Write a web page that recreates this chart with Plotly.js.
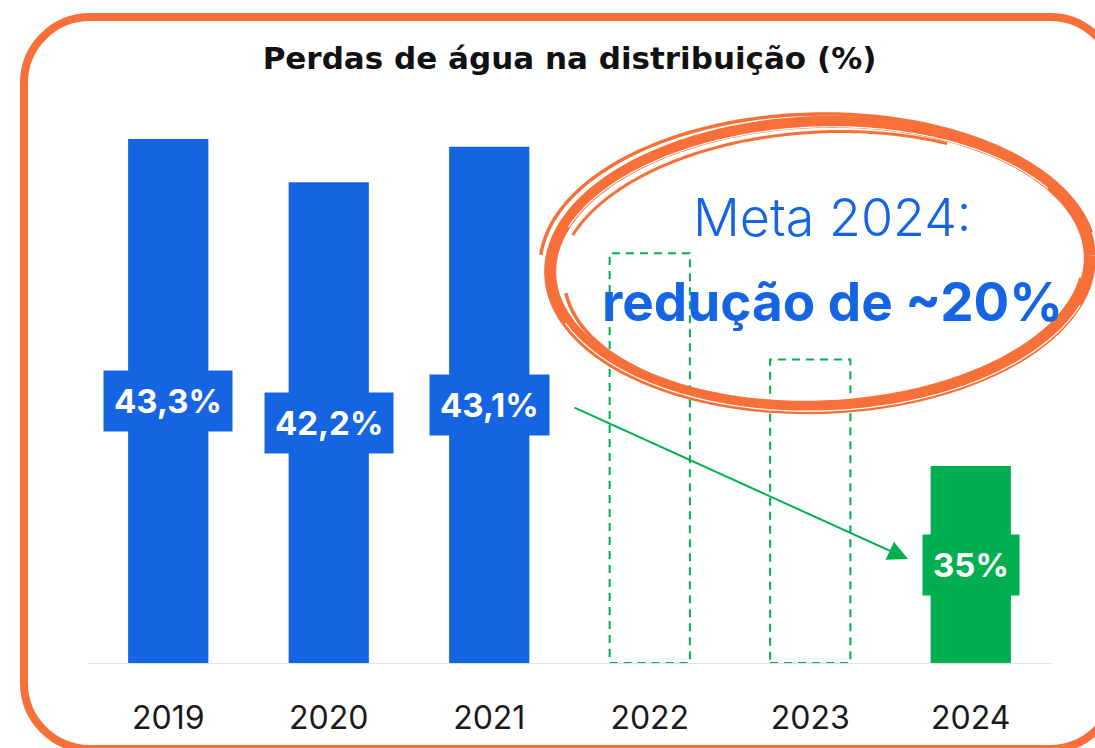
<!DOCTYPE html>
<html>
<head>
<meta charset="utf-8">
<script src="https://cdn.plot.ly/plotly-3.0.1.min.js"></script>
<style>
  html, body { margin: 0; padding: 0; background: #ffffff; overflow: hidden; }
  #wrap { position: relative; width: 1095px; height: 748px; overflow: hidden; }
  #chart { position: absolute; left: 0; top: 0; width: 1095px; height: 748px; }
  #frame { position: absolute; left: 20px; top: 13px; width: 1084px; height: 724px;
           border: 8px solid #F7703A; border-radius: 70px; pointer-events: none; }
</style>
</head>
<body>
<div id="wrap">
  <div id="chart"></div>
  <div id="frame"></div>
</div>
<script>
// ---- data ----
const years = ['2019', '2020', '2021', '2022', '2023', '2024'];
const actualYears = ['2019', '2020', '2021'];
const actualValues = [43.3, 42.2, 43.1];
const actualLabels = ['43,3%', '42,2%', '43,1%'];
const metaPathYears = ['2022', '2023'];
const metaPathValues = [40.4, 37.7];
const targetYears = ['2024'];
const targetValues = [35];
const targetLabels = ['35%'];
const axisMin = 30;
const axisMax = 45;

const titleText = 'Perdas de água na distribuição (%)';
const noteLine1 = 'Meta 2024:';
const noteLine2 = 'redução de ~20%';

// ---- styles ----
const BLUE = '#1565E3';
const GREEN = '#00AF50';
const ORANGE = '#F7703A';
const FONT = 'Inter, "Open Sans", sans-serif';

const W = 1095, H = 748;
const M = { l: 88, r: 44, t: 72, b: 85 };
const PW = W - M.l - M.r, PH = H - M.t - M.b;
function px2paperX(x) { return (x - M.l) / PW; }
function px2paperY(y) { return (H - M.b - y) / PH; }

const traces = [
  {
    type: 'bar', x: actualYears, y: actualValues, width: 0.5,
    marker: { color: BLUE }, hoverinfo: 'x+y', showlegend: false
  },
  {
    type: 'bar', x: targetYears, y: targetValues, width: 0.5,
    marker: { color: GREEN }, hoverinfo: 'x+y', showlegend: false
  }
];

const shapes = [];
// dashed placeholder bars
metaPathYears.forEach((yr, i) => {
  const idx = years.indexOf(yr);
  shapes.push({
    type: 'rect', xref: 'x', yref: 'y', layer: 'above',
    x0: idx - 0.25, x1: idx + 0.25, y0: axisMin, y1: metaPathValues[i],
    line: { color: GREEN, width: 2, dash: '8px,6px' }, fillcolor: 'rgba(0,0,0,0)'
  });
});

// hand-drawn style ellipse (decoration)
function ellipsePath(cx, cy, rx, ry, rotDeg, a0, a1, n) {
  const r = rotDeg * Math.PI / 180;
  let d = '';
  for (let k = 0; k <= n; k++) {
    const t = (a0 + (a1 - a0) * k / n) * Math.PI / 180;
    const ex = rx * Math.cos(t), ey = ry * Math.sin(t);
    const x = cx + ex * Math.cos(r) - ey * Math.sin(r);
    const y = cy + ex * Math.sin(r) + ey * Math.cos(r);
    d += (k === 0 ? 'M' : 'L') + px2paperX(x).toFixed(5) + ',' + px2paperY(y).toFixed(5);
  }
  return d;
}
function ell(cx, cy, rx, ry, rot, a0, a1, w, col) {
  shapes.push({ type: 'path', xref: 'paper', yref: 'paper', layer: 'above',
    path: ellipsePath(cx, cy, rx, ry, rot, a0, a1, 120), line: { color: col, width: w } });
}
ell(820, 265, 270, 143, -2, 0, 360, 12, ORANGE);
ell(820, 266, 266, 139, -2, 200, 330, 1.2, '#ffffff');
ell(821, 264, 274, 147, -2, 20, 160, 1.2, '#ffffff');
ell(818, 263, 278, 149, -1, 185, 350, 3.5, ORANGE);
ell(824, 268, 260, 134, -3, 10, 175, 3.5, ORANGE);
ell(822, 269, 263, 137, -3, 200, 300, 3, ORANGE);

const annotations = [];
function addLabel(yr, v, txt, col) {
  annotations.push({
    xref: 'x', yref: 'y', x: years.indexOf(yr), y: (axisMin + v) / 2,
    xanchor: 'center', yanchor: 'middle',
    text: '<b>' + txt + '</b>', showarrow: false,
    font: { family: FONT, size: 33, color: '#ffffff' },
    bgcolor: col, borderpad: 10
  });
}
actualYears.forEach((yr, i) => addLabel(yr, actualValues[i], actualLabels[i], BLUE));
targetYears.forEach((yr, i) => addLabel(yr, targetValues[i], targetLabels[i], GREEN));
// arrow
annotations.push({
  xref: 'paper', yref: 'paper', x: px2paperX(908), y: px2paperY(559),
  ax: -335, ay: -152, axref: 'pixel', ayref: 'pixel',
  text: '', showarrow: true, arrowhead: 2, arrowsize: 2, arrowwidth: 2,
  arrowcolor: GREEN, standoff: 0
});
// note text
annotations.push({
  xref: 'paper', yref: 'paper', x: px2paperX(832), y: px2paperY(217),
  xanchor: 'center', yanchor: 'middle', text: noteLine1, showarrow: false,
  font: { family: FONT, size: 52, color: BLUE, weight: 300 }
});
annotations.push({
  xref: 'paper', yref: 'paper', x: px2paperX(832), y: px2paperY(302),
  xanchor: 'center', yanchor: 'middle', text: noteLine2, showarrow: false,
  font: { family: FONT, size: 53, color: BLUE, weight: 700 }
});

const layout = {
  width: W, height: H,
  margin: M,
  paper_bgcolor: '#ffffff', plot_bgcolor: '#ffffff',
  title: {
    text: '<b>' + titleText + '</b>',
    x: 0.5, xref: 'paper', xanchor: 'center',
    y: 1 - 58 / H, yref: 'container', yanchor: 'middle',
    font: { family: '"DejaVu Sans", sans-serif', size: 31, color: '#111111' }
  },
  xaxis: {
    type: 'category', categoryorder: 'array', categoryarray: years,
    range: [-0.5, years.length - 0.5],
    showgrid: false, zeroline: false, ticks: '',
    showline: true, linecolor: '#e2e2e8', linewidth: 1,
    tickfont: { family: FONT, size: 32, color: '#1a1a1a' },
    ticklabelstandoff: 27
  },
  yaxis: {
    range: [axisMin, axisMax], visible: false, showgrid: false, zeroline: false
  },
  shapes: shapes,
  annotations: annotations,
  showlegend: false
};

Plotly.newPlot('chart', traces, layout, { displayModeBar: false, staticPlot: true });
</script>
</body>
</html>
